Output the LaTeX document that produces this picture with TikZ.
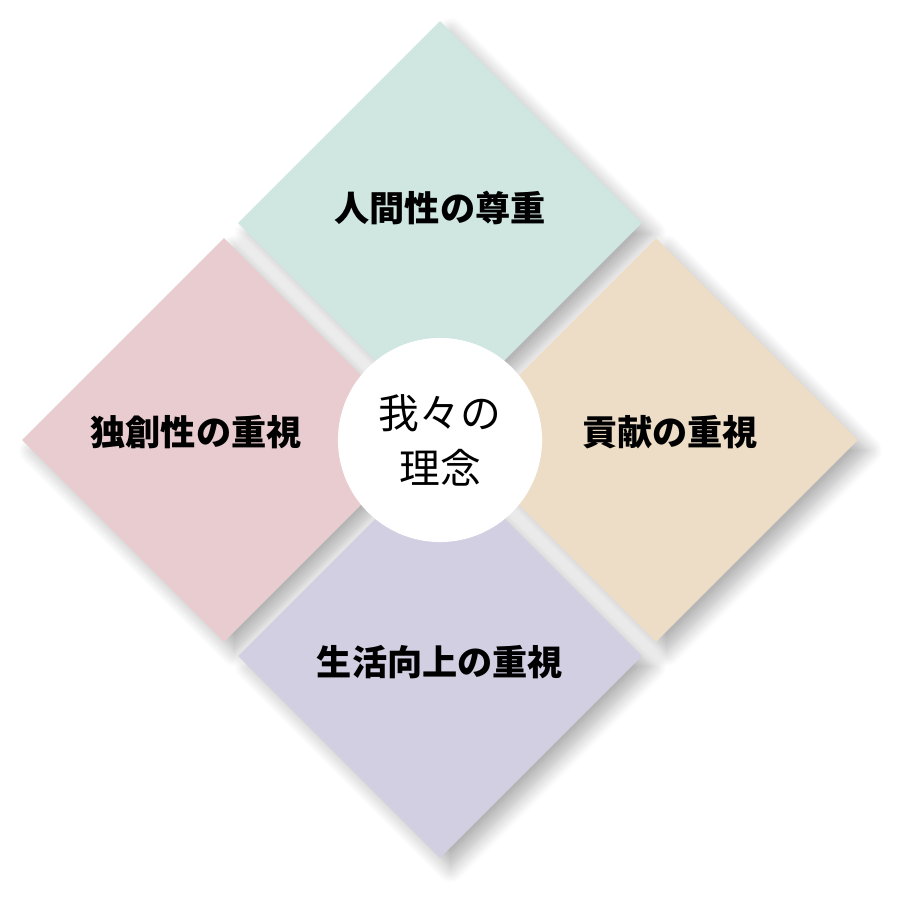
\documentclass[tikz,border=0pt]{standalone}
\usepackage{fontspec}
\newfontfamily\jpfont{Noto Sans CJK JP}
\usetikzlibrary{shapes.geometric,shadows.blur}

\definecolor{humancol}{HTML}{CFE6E1}
\definecolor{origcol}{HTML}{E9CCD0}
\definecolor{contribcol}{HTML}{EDDDC7}
\definecolor{lifecol}{HTML}{D3CFE3}

\tikzset{
  petal/.style={diamond, aspect=1, minimum width=4.04cm, minimum height=4.04cm,
    inner sep=0pt, blur shadow={shadow xshift=3pt, shadow yshift=-3pt,
    shadow blur radius=4pt, shadow blur steps=12, shadow opacity=30}},
  petaltext/.style={font=\jpfont\bfseries\fontsize{10}{12}\selectfont},
}

\begin{document}
\begin{tikzpicture}[x=0.01cm, y=-0.01cm]
    \useasboundingbox (0,0) rectangle (900,900);

    % four diamonds
    \node[petal, fill=humancol] (human) at (440,223) {};
    \node[petal, fill=origcol] (orig) at (224,440) {};
    \node[petal, fill=contribcol] (contrib) at (656,440) {};
    \node[petal, fill=lifecol] (life) at (440,656) {};

    % labels
    \node[petaltext] (humantext) at (440,208) {人間性の尊重};
    \node[petaltext] (origtext) at (196,432) {独創性の重視};
    \node[petaltext] (contribtext) at (670,432) {貢献の重視};
    \node[petaltext] (lifetext) at (440,662) {生活向上の重視};

    % centre
    \node[circle, fill=white, minimum size=2.04cm, inner sep=0pt] (core) at (440,440) {};
    \node[align=center, font=\jpfont\fontsize{11.6}{15.6}\selectfont] (coretext) at (core) {我々の\\理念};
\end{tikzpicture}
\end{document}
